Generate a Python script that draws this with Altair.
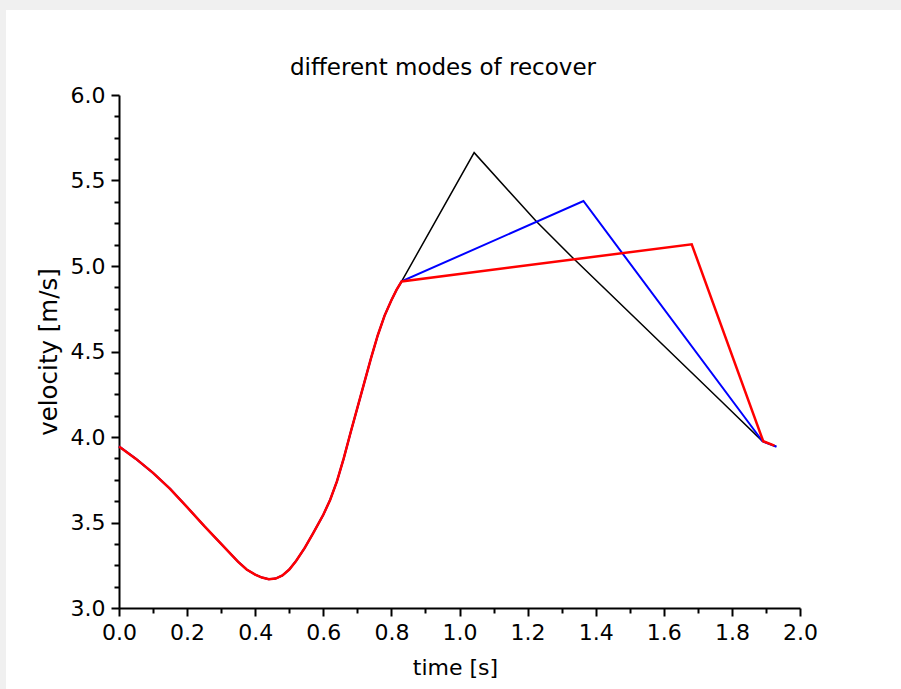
import altair as alt
import pandas as pd

chart_title = "different modes of recover"

# shared part of all three runs (time [s], velocity [m/s])
common_t = [0.0, 0.05, 0.1, 0.15, 0.2, 0.25, 0.3, 0.35, 0.375, 0.40, 0.42, 0.44, 0.46, 0.48, 0.50,
            0.52, 0.545, 0.57, 0.60, 0.62, 0.64, 0.66, 0.68, 0.70, 0.72, 0.74, 0.76, 0.78, 0.80, 0.815, 0.83]
common_v = [3.945, 3.872, 3.79, 3.697, 3.59, 3.48, 3.375, 3.27, 3.225, 3.195, 3.178, 3.168, 3.172, 3.19, 3.225,
            3.275, 3.35, 3.437, 3.545, 3.632, 3.74, 3.875, 4.025, 4.17, 4.315, 4.46, 4.595, 4.71, 4.80, 4.86, 4.91]

# recovery part of each run
black_t = [1.043, 1.226, 1.334, 1.765, 1.89, 1.93]
black_v = [5.663, 5.26, 5.045, 4.216, 3.975, 3.945]
blue_t = [1.364, 1.89, 1.931]
blue_v = [5.38, 3.975, 3.943]
red_t = [1.682, 1.892, 1.925]
red_v = [5.127, 3.975, 3.95]

x_ticks = [round(i * 0.1, 1) for i in range(21)]
y_ticks = [3 + i * 0.125 for i in range(25)]


def series(name, t_tail, v_tail):
    t = common_t + t_tail
    v = common_v + v_tail
    return pd.DataFrame({"t": t, "v": v, "idx": list(range(len(t))), "run": name})


FONT = "DejaVu Sans"

x_enc = alt.X(
    "t:Q",
    scale=alt.Scale(domain=[0, 2], nice=False, zero=False),
    axis=alt.Axis(
        title="time [s]",
        values=x_ticks,
        format=".1f",
        labelExpr="round(datum.value*10) % 2 == 0 ? datum.label : ''",
        tickSize={"condition": {"test": "round(datum.value*10) % 2 == 0", "value": 8}, "value": 5},
        labelFlush=False,
        labelOverlap=False,
        labelPadding=6,
        titlePadding=14,
        titleX=336,
    ),
)
y_enc = alt.Y(
    "v:Q",
    scale=alt.Scale(domain=[3, 6], nice=False, zero=False),
    axis=alt.Axis(
        title="velocity [m/s]",
        values=y_ticks,
        format=".1f",
        labelExpr="round(datum.value*8) % 4 == 0 ? datum.label : ''",
        tickSize={"condition": {"test": "round(datum.value*8) % 4 == 0", "value": 8}, "value": 5},
        labelFlush=False,
        labelOverlap=False,
        labelPadding=6,
        titlePadding=9,
        titleFontSize=24.5,
    ),
)

one = pd.DataFrame({"a": [0]})
band_top = alt.Chart(one).mark_rect(color="#f0f0f0", clip=False).encode(
    x=alt.value(-119), x2=alt.value(782), y=alt.value(-95), y2=alt.value(-85)
)
band_left = alt.Chart(one).mark_rect(color="#f0f0f0", clip=False).encode(
    x=alt.value(-119), x2=alt.value(-113), y=alt.value(-95), y2=alt.value(594)
)
title_mark = alt.Chart(one).mark_text(
    text=chart_title, font=FONT, fontSize=23, color="black", align="center", baseline="alphabetic"
).encode(x=alt.value(324), y=alt.value(-20))


def line(name, t_tail, v_tail, color, width):
    return alt.Chart(series(name, t_tail, v_tail)).mark_line(color=color, strokeWidth=width).encode(
        x=x_enc, y=y_enc, order="idx:Q"
    )


chart = alt.layer(
    band_top,
    band_left,
    title_mark,
    line("black", black_t, black_v, "#000000", 1.5),
    line("blue", blue_t, blue_v, "#0000ff", 2),
    line("red", red_t, red_v, "#ff0000", 2.5),
).properties(
    width=681,
    height=513,
    autosize=alt.AutoSizeParams(type="none"),
    padding={"left": 119, "top": 95, "right": 101, "bottom": 81},
    background="white",
).configure_view(stroke=None).configure_axis(
    grid=False,
    domainColor="black",
    domainWidth=2,
    tickColor="black",
    tickWidth=2,
    labelFont=FONT,
    labelFontSize=22,
    labelColor="black",
    titleFont=FONT,
    titleFontSize=22,
    titleFontWeight="normal",
    titleColor="black",
)

chart.save("out.html", embed_options={"renderer": "svg", "actions": False})
